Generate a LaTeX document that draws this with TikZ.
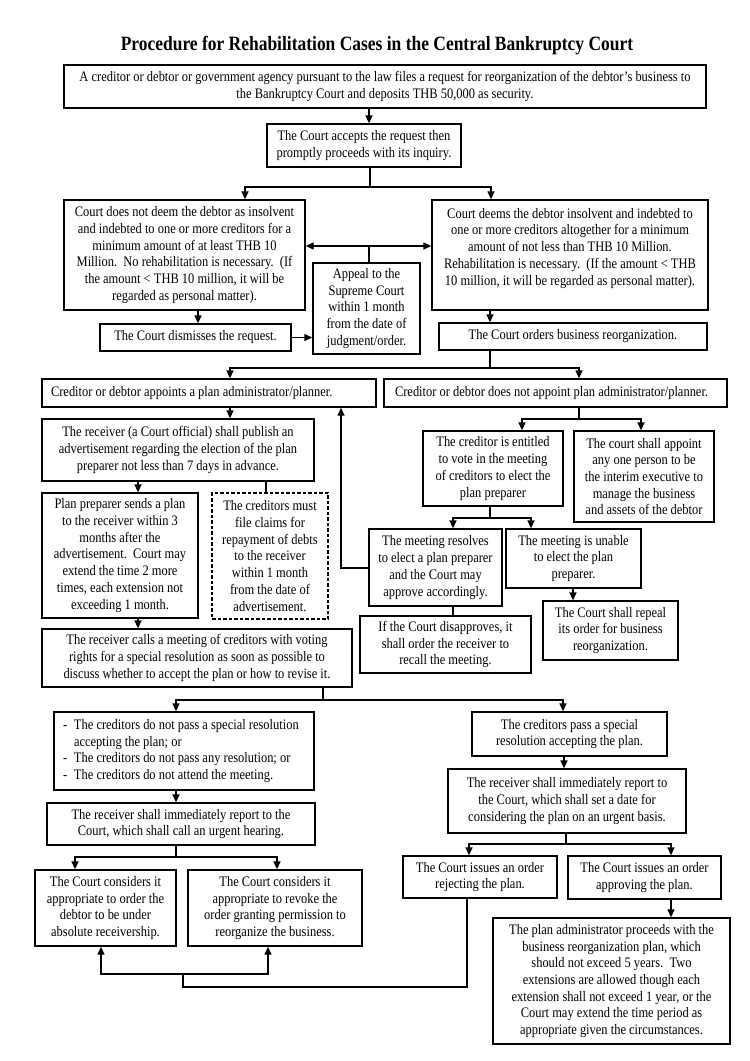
\documentclass[tikz,border=0pt]{standalone}
\usepackage{fontspec}
\setmainfont{Liberation Serif}[FakeStretch=0.86]
\usetikzlibrary{arrows.meta}
\newcommand\dashitem{\makebox[11pt][l]{-}}
\newcommand\normspaces{\spaceskip=0pt\xspaceskip=0pt\relax}
\begin{document}
\frenchspacing
\begin{tikzpicture}[x=1pt,y=-1pt,
  box/.style={draw, line width=1.3pt, align=center, inner sep=2pt, font=\fontsize{14.5}{16.7}\selectfont},
  lbox/.style={box, align=left},
  dbox/.style={box, dash pattern=on 3.5pt off 2pt},
  sz/.style 2 args={minimum width=#1pt, minimum height=#2pt},
  conn/.style={line width=1.3pt},
  arr/.style={conn, -{Triangle[length=8pt,width=7pt]}},
  darr/.style={conn, {Triangle[length=8pt,width=7pt]}-{Triangle[length=8pt,width=7pt]}},
  titlefont/.style={font=\fontsize{20.3}{23}\selectfont\bfseries}
]
\fill[white] (0,0) rectangle (750,1061);
\useasboundingbox (0,0) rectangle (750,1061);

\node[titlefont] (title) at (377,46) {Procedure for Rehabilitation Cases in the Central Bankruptcy Court};

\node[box, sz={642}{43}] (n1) at (385,86.5) {A creditor or debtor or government agency pursuant to the law files a request for reorganization of the debtor’s business to\\the Bankruptcy Court and deposits THB 50,000 as security.};
\node[box, sz={194}{43}] (n2) at (364,145.5) {The Court accepts the request then\\promptly proceeds with its inquiry.};
\node[box, sz={241}{110}] (n3) at (184.5,255) {Court does not deem the debtor as insolvent\\and indebted to one or more creditors for a\\minimum amount of at least THB 10\\Million.\ \ No rehabilitation is necessary.\ \ (If\\the amount < THB 10 million, it will be\\regarded as personal matter).};
\node[box, sz={276}{110}] (n4) at (570,255) {Court deems the debtor insolvent and indebted to\\one or more creditors altogether for a minimum\\amount of not less than THB 10 Million.\\Rehabilitation is necessary.\ \ (If the amount < THB\\10 million, it will be regarded as personal matter).\\\mbox{}};
\node[box, sz={107}{91}] (appeal) at (366.5,308.5) {Appeal to the\\Supreme Court\\within 1 month\\from the date of\\judgment/order.};
\node[box, sz={191}{27}] (dismiss) at (195.5,337.5) {The Court dismisses the request.};
\node[box, sz={268}{27}] (orders) at (573,336.5) {The Court orders business reorganization.};
\node[lbox, sz={334}{28}, inner xsep=9pt, text width=316pt] (appoint) at (209,393) {\normspaces\mbox{Creditor or debtor appoints a plan administrator/planner.}};
\node[lbox, sz={343}{28}, inner xsep=11pt, text width=321pt] (notappoint) at (555.5,393) {\normspaces\mbox{Creditor or debtor does not appoint plan administrator/planner.}};
\node[box, sz={272}{62}] (receiver) at (178,450) {The receiver (a Court official) shall publish an\\advertisement regarding the election of the plan\\preparer not less than 7 days in advance.};
\node[box, sz={156}{125}] (preparer) at (120,555.5) {Plan preparer sends a plan\\to the receiver within 3\\months after the\\advertisement.\ \ Court may\\extend the time 2 more\\times, each extension not\\exceeding 1 month.};
\node[dbox, sz={116}{126}] (claims) at (270,556) {The creditors must\\file claims for\\repayment of debts\\to the receiver\\within 1 month\\from the date of\\advertisement.};
\node[box, sz={310}{58}] (calls) at (197,658) {The receiver calls a meeting of creditors with voting\\rights for a special resolution as soon as possible to\\discuss whether to accept the plan or how to revise it.};
\node[lbox, sz={260}{78}, inner xsep=9pt, text width=242pt] (notpass) at (184,751) {\normspaces\mbox{\dashitem The creditors do not pass a special resolution}\\\mbox{\hspace*{11pt}accepting the plan; or}\\\mbox{\dashitem The creditors do not pass any resolution; or}\\\mbox{\dashitem The creditors do not attend the meeting.}};
\node[box, sz={268}{42}] (reportL) at (181,824) {The receiver shall immediately report to the\\Court, which shall call an urgent hearing.};
\node[box, sz={141}{76}] (absolute) at (105.5,908) {The Court considers it\\appropriate to order the\\debtor to be under\\absolute receivership.};
\node[box, sz={174}{76}] (revoke) at (275,908) {The Court considers it\\appropriate to revoke the\\order granting permission to\\reorganize the business.};
\node[box, sz={140}{75}] (entitled) at (493,468.5) {The creditor is entitled\\to vote in the meeting\\of creditors to elect the\\plan preparer};
\node[box, sz={140}{91}] (interim) at (644,476.5) {The court shall appoint\\any one person to be\\the interim executive to\\manage the business\\and assets of the debtor};
\node[box, sz={133}{77}] (resolves) at (435.5,567.5) {The meeting resolves\\to elect a plan preparer\\and the Court may\\approve accordingly.};
\node[box, sz={135}{59}] (unable) at (573.5,558.5) {The meeting is unable\\to elect the plan\\preparer.};
\node[box, sz={135}{59}] (repeal) at (610.5,630.5) {The Court shall repeal\\its order for business\\reorganization.};
\node[box, sz={171}{57}] (disapprove) at (445.5,644.5) {If the Court disapproves, it\\shall order the receiver to\\recall the meeting.};
\node[box, sz={195}{44}] (pass) at (569.5,734) {The creditors pass a special\\resolution accepting the plan.};
\node[box, sz={238}{64}] (reportR) at (567,801) {The receiver shall immediately report to\\the Court, which shall set a date for\\considering the plan on an urgent basis.};
\node[box, sz={154}{42}] (reject) at (480,877) {The Court issues an order\\rejecting the plan.};
\node[box, sz={153}{43}] (approve) at (644.5,877.5) {The Court issues an order\\approving the plan.};
\node[box, sz={237}{126}] (final) at (611.5,981) {The plan administrator proceeds with the\\business reorganization plan, which\\should not exceed 5 years.\ \ Two\\extensions are allowed though each\\extension shall not exceed 1 year, or the\\Court may extend the time period as\\appropriate given the circumstances.};

% guide coordinates
\foreach \gx in {75,101,138,176,198,230,245,266,268,277,369,453,467,469,490,491,522,531,563,564,573,579,641,671}
  \coordinate (g\gx) at (\gx,0);
\coordinate (j2) at (370,187);
\coordinate (j3) at (369,246);
\coordinate (j7) at (490,368);
\coordinate (j12) at (323,700);
\coordinate (j14) at (176,857);
\coordinate (j15a) at (183,974);
\coordinate (j15b) at (183,987);
\coordinate (j16) at (579,419);
\coordinate (j17) at (490,518);
\coordinate (j18) at (341,568);
\coordinate (j22) at (566,844);

\draw[arr] (n1.south -| g369) -- (n2.north -| g369);
\draw[conn] (n2.south -| j2) -- (j2);
\draw[arr] (j2) -| (n3.north -| g245);
\draw[arr] (j2) -| (n4.north -| g491);
\draw[darr] (n3.east |- j3) -- (n4.west |- j3);
\draw[conn] (j3) -- (appeal.north -| j3);
\draw[arr] (n3.south -| g198) -- (dismiss.north -| g198);
\draw[arr] (dismiss.east) -- (appeal.west |- dismiss.east);
\draw[arr] (n4.south -| g490) -- (orders.north -| g490);
\draw[conn] (orders.south -| j7) -- (j7);
\draw[arr] (j7) -| (appoint.north -| g230);
\draw[arr] (j7) -| (notappoint.north -| g579);
\draw[arr] (appoint.south -| g230) -- (receiver.north -| g230);
\draw[arr] (receiver.south -| g138) -- (preparer.north -| g138);
\draw[conn] (receiver.south -| g266) -- (claims.north -| g266);
\draw[arr] (preparer.south -| g138) -- (calls.north -| g138);
\draw[conn] (calls.south -| j12) -- (j12);
\draw[arr] (j12) -| (notpass.north -| g176);
\draw[arr] (j12) -| (pass.north -| g563);
\draw[arr] (notpass.south -| g176) -- (reportL.north -| g176);
\draw[conn] (reportL.south -| j14) -- (j14);
\draw[arr] (j14) -| (absolute.north -| g75);
\draw[arr] (j14) -| (revoke.north -| g277);
\draw[conn] (reject.south -| g467) |- (j15b) -- (j15a);
\draw[arr] (j15a) -| (absolute.south -| g101);
\draw[arr] (j15a) -| (revoke.south -| g268);
\draw[conn] (notappoint.south -| j16) -- (j16);
\draw[arr] (j16) -| (entitled.north -| g522);
\draw[arr] (j16) -| (interim.north -| g641);
\draw[conn] (entitled.south -| j17) -- (j17);
\draw[arr] (j17) -| (resolves.north -| g453);
\draw[arr] (j17) -| (unable.north -| g531);
\draw[arr] (resolves.west |- j18) -- (j18) -- (appoint.south -| j18);
\draw[conn] (resolves.south -| g453) -- (disapprove.north -| g453);
\draw[arr] (unable.south -| g573) -- (repeal.north -| g573);
\draw[arr] (pass.south -| g564) -- (reportR.north -| g564);
\draw[conn] (reportR.south -| j22) -- (j22);
\draw[arr] (j22) -| (reject.north -| g469);
\draw[arr] (j22) -| (approve.north -| g671);
\draw[arr] (approve.south -| g671) -- (final.north -| g671);
\end{tikzpicture}
\end{document}
